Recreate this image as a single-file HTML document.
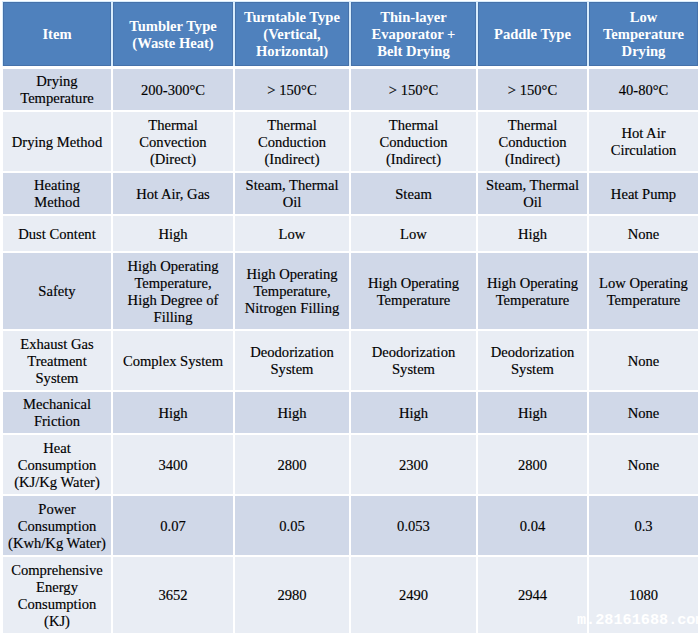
<!DOCTYPE html>
<html><head><meta charset="utf-8"><style>
html,body{margin:0;padding:0;background:#fff;}
body{width:700px;height:636px;position:relative;overflow:hidden;font-family:"Liberation Serif","Times New Roman",serif;}
.c{position:absolute;padding-top:1px;-webkit-text-stroke:0.15px #000;display:flex;align-items:center;justify-content:center;text-align:center;color:#000;font-size:14.6px;line-height:17px;box-sizing:border-box;}
.h{background:#4f81bd;color:#fff;font-weight:bold;padding-top:1px;-webkit-text-stroke:0;box-shadow:inset 1px 1px 0 #4672aa,inset -1px -1px 0 #4672aa;}
.wm{position:absolute;left:577px;top:612px;font-family:"Liberation Mono",monospace;font-size:15.2px;line-height:17px;font-weight:bold;color:#fff;white-space:nowrap;}
</style></head><body>
<div style="position:absolute;left:2px;top:1px;width:696px;height:65px;background:#d8ecfc"></div>
<div class="c h" style="left:3px;top:2px;width:108px;height:64px"><div>Item</div></div>
<div class="c h" style="left:113px;top:2px;width:120px;height:64px"><div>Tumbler Type<br>(Waste Heat)</div></div>
<div class="c h" style="left:235px;top:2px;width:114px;height:64px"><div>Turntable Type<br>(Vertical,<br>Horizontal)</div></div>
<div class="c h" style="left:351px;top:2px;width:125px;height:64px"><div>Thin-layer<br>Evaporator +<br>Belt Drying</div></div>
<div class="c h" style="left:478px;top:2px;width:109px;height:64px"><div>Paddle Type</div></div>
<div class="c h" style="left:589px;top:2px;width:109px;height:64px"><div>Low<br>Temperature<br>Drying</div></div>
<div class="c" style="left:3px;top:69px;width:108px;height:41px;background:#d0d8e8"><div>Drying<br>Temperature</div></div>
<div class="c" style="left:113px;top:69px;width:120px;height:41px;background:#d0d8e8"><div>200-300°C</div></div>
<div class="c" style="left:235px;top:69px;width:114px;height:41px;background:#d0d8e8"><div>&gt; 150°C</div></div>
<div class="c" style="left:351px;top:69px;width:125px;height:41px;background:#d0d8e8"><div>&gt; 150°C</div></div>
<div class="c" style="left:478px;top:69px;width:109px;height:41px;background:#d0d8e8"><div>&gt; 150°C</div></div>
<div class="c" style="left:589px;top:69px;width:109px;height:41px;background:#d0d8e8"><div>40-80°C</div></div>
<div class="c" style="left:3px;top:112px;width:108px;height:59px;background:#e9edf4"><div>Drying Method</div></div>
<div class="c" style="left:113px;top:112px;width:120px;height:59px;background:#e9edf4"><div>Thermal<br>Convection<br>(Direct)</div></div>
<div class="c" style="left:235px;top:112px;width:114px;height:59px;background:#e9edf4"><div>Thermal<br>Conduction<br>(Indirect)</div></div>
<div class="c" style="left:351px;top:112px;width:125px;height:59px;background:#e9edf4"><div>Thermal<br>Conduction<br>(Indirect)</div></div>
<div class="c" style="left:478px;top:112px;width:109px;height:59px;background:#e9edf4"><div>Thermal<br>Conduction<br>(Indirect)</div></div>
<div class="c" style="left:589px;top:112px;width:109px;height:59px;background:#e9edf4"><div>Hot Air<br>Circulation</div></div>
<div class="c" style="left:3px;top:173px;width:108px;height:41px;background:#d0d8e8"><div>Heating<br>Method</div></div>
<div class="c" style="left:113px;top:173px;width:120px;height:41px;background:#d0d8e8"><div>Hot Air, Gas</div></div>
<div class="c" style="left:235px;top:173px;width:114px;height:41px;background:#d0d8e8"><div>Steam, Thermal<br>Oil</div></div>
<div class="c" style="left:351px;top:173px;width:125px;height:41px;background:#d0d8e8"><div>Steam</div></div>
<div class="c" style="left:478px;top:173px;width:109px;height:41px;background:#d0d8e8"><div>Steam, Thermal<br>Oil</div></div>
<div class="c" style="left:589px;top:173px;width:109px;height:41px;background:#d0d8e8"><div>Heat Pump</div></div>
<div class="c" style="left:3px;top:216px;width:108px;height:35px;background:#e9edf4"><div>Dust Content</div></div>
<div class="c" style="left:113px;top:216px;width:120px;height:35px;background:#e9edf4"><div>High</div></div>
<div class="c" style="left:235px;top:216px;width:114px;height:35px;background:#e9edf4"><div>Low</div></div>
<div class="c" style="left:351px;top:216px;width:125px;height:35px;background:#e9edf4"><div>Low</div></div>
<div class="c" style="left:478px;top:216px;width:109px;height:35px;background:#e9edf4"><div>High</div></div>
<div class="c" style="left:589px;top:216px;width:109px;height:35px;background:#e9edf4"><div>None</div></div>
<div class="c" style="left:3px;top:253px;width:108px;height:76px;background:#d0d8e8"><div>Safety</div></div>
<div class="c" style="left:113px;top:253px;width:120px;height:76px;background:#d0d8e8"><div>High Operating<br>Temperature,<br>High Degree of<br>Filling</div></div>
<div class="c" style="left:235px;top:253px;width:114px;height:76px;background:#d0d8e8"><div>High Operating<br>Temperature,<br>Nitrogen Filling</div></div>
<div class="c" style="left:351px;top:253px;width:125px;height:76px;background:#d0d8e8"><div>High Operating<br>Temperature</div></div>
<div class="c" style="left:478px;top:253px;width:109px;height:76px;background:#d0d8e8"><div>High Operating<br>Temperature</div></div>
<div class="c" style="left:589px;top:253px;width:109px;height:76px;background:#d0d8e8"><div>Low Operating<br>Temperature</div></div>
<div class="c" style="left:3px;top:331px;width:108px;height:59px;background:#e9edf4"><div>Exhaust Gas<br>Treatment<br>System</div></div>
<div class="c" style="left:113px;top:331px;width:120px;height:59px;background:#e9edf4"><div>Complex System</div></div>
<div class="c" style="left:235px;top:331px;width:114px;height:59px;background:#e9edf4"><div>Deodorization<br>System</div></div>
<div class="c" style="left:351px;top:331px;width:125px;height:59px;background:#e9edf4"><div>Deodorization<br>System</div></div>
<div class="c" style="left:478px;top:331px;width:109px;height:59px;background:#e9edf4"><div>Deodorization<br>System</div></div>
<div class="c" style="left:589px;top:331px;width:109px;height:59px;background:#e9edf4"><div>None</div></div>
<div class="c" style="left:3px;top:392px;width:108px;height:41px;background:#d0d8e8"><div>Mechanical<br>Friction</div></div>
<div class="c" style="left:113px;top:392px;width:120px;height:41px;background:#d0d8e8"><div>High</div></div>
<div class="c" style="left:235px;top:392px;width:114px;height:41px;background:#d0d8e8"><div>High</div></div>
<div class="c" style="left:351px;top:392px;width:125px;height:41px;background:#d0d8e8"><div>High</div></div>
<div class="c" style="left:478px;top:392px;width:109px;height:41px;background:#d0d8e8"><div>High</div></div>
<div class="c" style="left:589px;top:392px;width:109px;height:41px;background:#d0d8e8"><div>None</div></div>
<div class="c" style="left:3px;top:435px;width:108px;height:59px;background:#e9edf4"><div>Heat<br>Consumption<br>(KJ/Kg Water)</div></div>
<div class="c" style="left:113px;top:435px;width:120px;height:59px;background:#e9edf4"><div>3400</div></div>
<div class="c" style="left:235px;top:435px;width:114px;height:59px;background:#e9edf4"><div>2800</div></div>
<div class="c" style="left:351px;top:435px;width:125px;height:59px;background:#e9edf4"><div>2300</div></div>
<div class="c" style="left:478px;top:435px;width:109px;height:59px;background:#e9edf4"><div>2800</div></div>
<div class="c" style="left:589px;top:435px;width:109px;height:59px;background:#e9edf4"><div>None</div></div>
<div class="c" style="left:3px;top:496px;width:108px;height:59px;background:#d0d8e8"><div>Power<br>Consumption<br>(Kwh/Kg Water)</div></div>
<div class="c" style="left:113px;top:496px;width:120px;height:59px;background:#d0d8e8"><div>0.07</div></div>
<div class="c" style="left:235px;top:496px;width:114px;height:59px;background:#d0d8e8"><div>0.05</div></div>
<div class="c" style="left:351px;top:496px;width:125px;height:59px;background:#d0d8e8"><div>0.053</div></div>
<div class="c" style="left:478px;top:496px;width:109px;height:59px;background:#d0d8e8"><div>0.04</div></div>
<div class="c" style="left:589px;top:496px;width:109px;height:59px;background:#d0d8e8"><div>0.3</div></div>
<div class="c" style="left:3px;top:557px;width:108px;height:76px;background:#e9edf4"><div>Comprehensive<br>Energy<br>Consumption<br>(KJ)</div></div>
<div class="c" style="left:113px;top:557px;width:120px;height:76px;background:#e9edf4"><div>3652</div></div>
<div class="c" style="left:235px;top:557px;width:114px;height:76px;background:#e9edf4"><div>2980</div></div>
<div class="c" style="left:351px;top:557px;width:125px;height:76px;background:#e9edf4"><div>2490</div></div>
<div class="c" style="left:478px;top:557px;width:109px;height:76px;background:#e9edf4"><div>2944</div></div>
<div class="c" style="left:589px;top:557px;width:109px;height:76px;background:#e9edf4"><div>1080</div></div>
<div class="wm">m.28161688.com</div>
</body></html>
